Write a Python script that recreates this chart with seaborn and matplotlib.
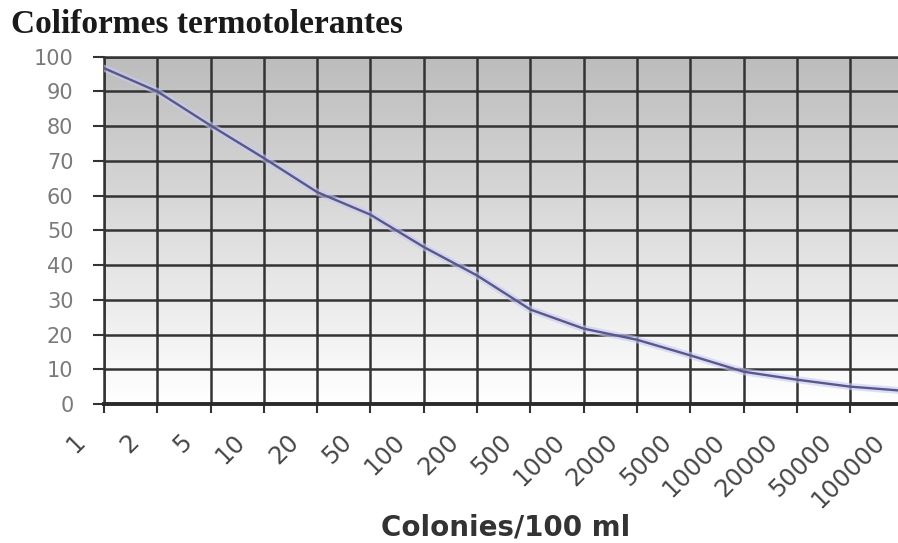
import numpy as np
import pandas as pd
import seaborn as sns
import matplotlib.pyplot as plt
from matplotlib.colors import LinearSegmentedColormap
from matplotlib.transforms import ScaledTranslation

# datos
colonias = ['1', '2', '5', '10', '20', '50', '100', '200', '500', '1000',
            '2000', '5000', '10000', '20000', '50000', '100000']
valores = [96.7, 90, 80.2, 70.8, 61, 54.5, 45.2, 37, 27.2, 21.7,
           18.5, 14, 9.3, 7, 5, 3.8]
y_ticks = list(range(0, 101, 10))

df = pd.DataFrame({'pos': np.arange(len(colonias)), 'valor': valores})

sns.set_style('white')
plt.rcParams['font.family'] = ['DejaVu Sans']

fig = plt.figure(figsize=(8.98, 5.43), dpi=100)
# el eje se sale un poco por la derecha, como en la imagen original
ax = fig.add_axes([104 / 898, 139 / 543, 799.5 / 898, 347.3 / 543])

# fondo degradado gris -> blanco
grad = np.linspace(0, 1, 256).reshape(-1, 1)
cmap = LinearSegmentedColormap.from_list('fondo', ['#bcbcbc', '#ffffff'])
ax.imshow(grad, cmap=cmap, aspect='auto', extent=[0, 15, 0, 100], zorder=0)

# línea con un halo suave
sns.lineplot(data=df, x='pos', y='valor', ax=ax, sort=False,
             color='#c9c9f2', linewidth=5, alpha=0.6, zorder=3)
sns.lineplot(data=df, x='pos', y='valor', ax=ax, sort=False,
             color='#58588c', linewidth=1.7, zorder=4)

ax.set_xlim(0, 15)
ax.set_ylim(0, 100)
ax.set_xticks(df['pos'])
ax.set_xticklabels(colonias)
ax.set_yticks(y_ticks)
ax.set_axisbelow(True)
ax.grid(True, color='#333333', linewidth=1.8)

for lado in ['left', 'top']:
    ax.spines[lado].set_color('#333333')
    ax.spines[lado].set_linewidth(1.8)
ax.spines['bottom'].set_color('#2a2a2a')
ax.spines['bottom'].set_linewidth(2.8)
ax.spines['right'].set_visible(False)

ax.tick_params(axis='y', length=8, width=1.5, color='#333333',
               labelsize=15, labelcolor='#7a7a7a', pad=14, left=True)
ax.tick_params(axis='x', length=6.5, width=1.5, color='#333333',
               labelsize=17.5, labelcolor='#474747', pad=12, bottom=True,
               rotation=45)

desplaza = ScaledTranslation(-14 / 100, 0, fig.dpi_scale_trans)
for etiqueta in ax.get_xticklabels():
    etiqueta.set_ha('right')
    etiqueta.set_transform(etiqueta.get_transform() + desplaza)

ax.set_xlabel('')
ax.set_ylabel('')

fig.text(11 / 898, 1 - 33 / 543, 'Coliformes termotolerantes',
         family='Liberation Serif', weight='bold', size=24,
         color='#1a1a1a', va='baseline')
fig.text(506 / 898, 1 - 536 / 543, 'Colonies/100 ml', ha='center',
         va='baseline', weight='bold', size=20, color='#333333')

plt.savefig('out.png', dpi=100)
